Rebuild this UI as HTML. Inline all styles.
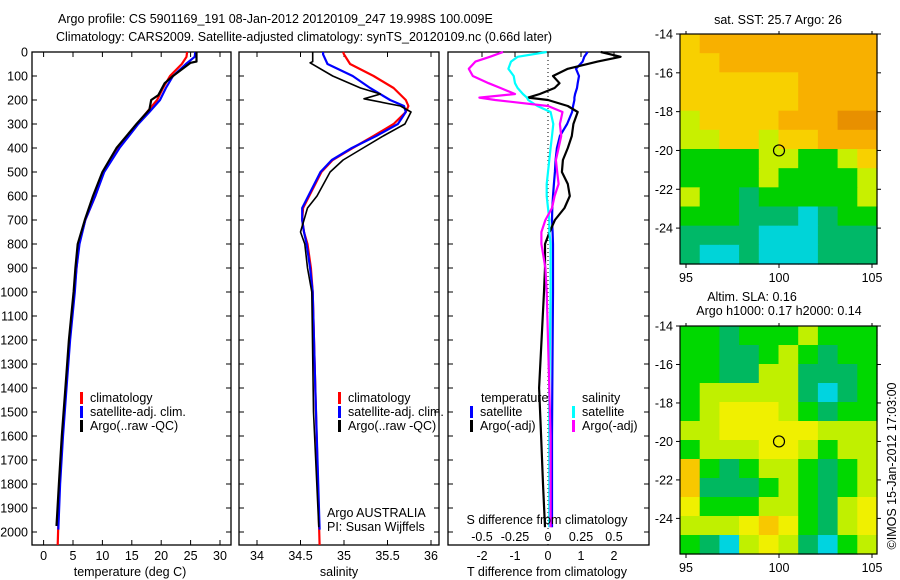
<!DOCTYPE html>
<html><head><meta charset="utf-8"><style>
html,body{margin:0;padding:0;background:#fff;width:900px;height:580px;overflow:hidden}
svg text{font-family:"Liberation Sans",sans-serif;font-size:12.5px;fill:#000}
</style></head><body>
<svg id="fig" width="900" height="580" viewBox="0 0 900 580" xmlns="http://www.w3.org/2000/svg">
<text x="58" y="23" font-size="13.5">Argo profile: CS 5901169_191 08-Jan-2012 20120109_247 19.998S 100.009E</text>
<text x="56" y="41" font-size="13.5">Climatology: CARS2009. Satellite-adjusted climatology: synTS_20120109.nc (0.66d later)</text>
<g id="g"></g>
</svg>
<script>
// ---- temperature panel data ----
const tDepth = [0,20,50,100,150,200,250,300,400,500,600,700,800,900,1000,1200,1400,1600,1800,2000];
const tClim  = [24.4,24.3,23.5,21.5,20.3,19.3,17.6,15.9,12.7,10.2,8.8,7.1,6.0,5.6,5.2,4.4,3.8,3.2,2.7,2.4];
const tSat   = [25.8,25.7,24.2,22.0,20.8,19.8,18.0,16.1,12.9,10.3,8.8,7.1,6.1,5.6,5.3,4.5,3.9,3.3,2.8,2.5];
const tArgoDepth = [0,40,45,100,130,180,200,240,300,400,500,600,700,800,900,1000,1200,1400,1600,1800,1975];
const tArgo  = [26.0,26.0,25.0,22.0,20.6,19.5,18.3,18.0,15.8,12.4,10.0,8.4,7.0,5.8,5.4,5.1,4.3,3.7,3.1,2.6,2.2];
// ---- salinity panel data ----
const sDepth = [0,10,50,100,150,200,225,250,300,350,400,450,500,600,650,700,750,800,900,1000,1400,2000];
const sClim  = [34.99,35.0,35.07,35.34,35.57,35.71,35.74,35.71,35.57,35.34,35.1,34.87,34.74,34.6,34.53,34.52,34.54,34.58,34.62,34.64,34.67,34.72];
const sSat   = [34.76,34.76,34.81,35.1,35.3,35.53,35.69,35.71,35.62,35.37,35.09,34.86,34.73,34.59,34.52,34.52,34.54,34.57,34.61,34.64,34.67,34.72];
const sArgoDepth = [0,40,45,100,150,175,195,225,250,300,350,400,450,500,600,650,700,750,800,900,1000,1500,1980];
const sArgo  = [34.64,34.64,34.61,34.87,35.19,35.42,35.23,35.65,35.77,35.7,35.45,35.22,34.99,34.84,34.69,34.58,34.54,34.5,34.55,34.58,34.63,34.65,34.71];
// ---- difference panel data ----
const dDepth = [0,20,40,70,100,130,150,175,190,200,225,250,300,350,400,450,500,550,600,650,700,750,800,900,1000,1400,1600,1800,1980];
const dTSat  = [1.2,1.1,1.05,0.85,0.94,0.9,0.88,0.82,0.8,0.8,0.76,0.73,0.58,0.36,0.27,0.23,0.21,0.18,0.15,0.13,0.12,0.14,0.15,0.15,0.15,0.13,0.12,0.12,0.12];
const dTArgo = [1.6,2.2,1.5,0.6,0.15,0.35,0.2,-0.25,-0.6,0.0,0.6,0.9,0.77,0.72,0.6,0.45,0.42,0.6,0.66,0.5,0.21,0.05,-0.09,-0.09,-0.12,-0.27,-0.21,-0.15,-0.09];
const dSSat  = [-0.01,-0.23,-0.28,-0.3,-0.26,-0.25,-0.23,-0.19,-0.16,-0.15,-0.08,0.02,0.04,0.03,0.02,0.01,0.0,-0.01,-0.01,0.0,0.01,0.01,0.02,0.02,0.02,0.01,0.01,0.01,0.01];
const dSArgo = [-0.34,-0.44,-0.55,-0.6,-0.57,-0.45,-0.36,-0.25,-0.52,-0.4,0.0,0.11,0.09,0.1,0.08,0.06,0.07,0.08,0.05,0.03,-0.02,-0.05,-0.05,-0.02,-0.01,0.01,0.02,0.02,0.02];
// ---- tick labels ----
const depthTicks = [0,100,200,300,400,500,600,700,800,900,1000,1100,1200,1300,1400,1500,1600,1700,1800,1900,2000];
const tempTicks = [0,5,10,15,20,25,30];
const salTicks = [34,34.5,35,35.5,36];
const dTTicks = [-2,-1,0,1,2];
const dSTicks = [-0.5,-0.25,0,0.25,0.5];
const latTicks = [-14,-16,-18,-20,-22,-24];
const lonTicks = [95,100,105];
// ---- map grids (colour class, rows -14 .. -26, cols 95 .. 105) ----
const sstGrid = [
[4,5,5,5,5,5,5,5,5,5],[4,4,5,5,5,5,5,5,5,5],[4,4,4,4,4,4,5,5,5,5],[4,4,4,4,4,4,5,5,5,5],
[3,4,4,4,4,5,5,5,6,6],[3,3,4,4,3,4,4,5,5,5],[2,2,2,2,3,3,2,2,3,4],[2,2,2,2,3,2,2,2,2,3],
[3,2,2,1,2,2,2,2,2,3],[2,2,2,1,1,1,0,1,2,2],[1,1,1,1,0,0,0,1,1,1],[1,0,0,1,0,0,0,1,1,1]];
const slaGrid = [
[2,2,1,2,2,2,3,2,2,2],[2,2,1,1,2,3,2,1,2,2],[2,2,1,1,3,3,1,1,1,2],[2,3,3,3,3,3,1,0,1,2],
[2,3,4,4,4,3,2,1,2,2],[3,3,4,4,4,4,4,3,3,3],[2,3,3,3,4,4,3,2,3,3],[5,2,1,2,3,3,2,1,2,3],
[5,1,1,1,2,3,2,1,2,3],[4,2,2,2,3,3,2,1,3,4],[3,3,3,4,5,4,2,1,3,4],[2,1,0,3,4,3,1,0,2,3]];
const sstColors = ['#00d4d8','#00b868','#00d000','#c8f000','#f8d000','#f8b000','#e89000'];
const slaColors = ['#00d4e0','#00b860','#00d800','#c0f000','#f0f000','#f8c800'];

const NS='http://www.w3.org/2000/svg', G=document.getElementById('g');
function mk(tag,attrs,parent){const e=document.createElementNS(NS,tag);for(const k in attrs)e.setAttribute(k,attrs[k]);(parent||G).appendChild(e);return e;}
function txt(x,y,s,anchor,parent,size){const e=mk('text',{x:x,y:y,'text-anchor':anchor||'start'},parent);if(size)e.setAttribute('font-size',size);e.textContent=s;return e;}

const Y = d => 52 + d*0.24;
const xT = v => 43.6 + v*(220-43.6)/30;
const xS = v => 257 + (v-34)*87;
const xD = v => 548 + v*33;
const xDS = v => 548 + v*132;

function frame(x0,x1,name){
  const r=mk('rect',{x:x0,y:52,width:x1-x0,height:493,fill:'none',stroke:'#000','stroke-width':1.3});
  
  
  depthTicks.forEach(d=>{mk('line',{x1:x0,x2:x0+5,y1:Y(d),y2:Y(d),stroke:'#000'});mk('line',{x1:x1,x2:x1-5,y1:Y(d),y2:Y(d),stroke:'#000'});});
}
function line(xs,ds,fx,color,name,w){
  const p=xs.map((v,i)=>(i?'L':'M')+fx(v).toFixed(1)+','+Y(ds[i]).toFixed(1)).join('');
  const e=mk('path',{d:p,fill:'none',stroke:color,'stroke-width':w||2.2,'stroke-linejoin':'round'});
  
  
}
// depth labels
depthTicks.forEach(d=>{const t=txt(28,Y(d)+4.5,String(d),'end');
  
  });

// panel 1
frame(32,231,'temperature-panel');
tempTicks.forEach(v=>{mk('line',{x1:xT(v),x2:xT(v),y1:52,y2:57,stroke:'#000'});mk('line',{x1:xT(v),x2:xT(v),y1:545,y2:540,stroke:'#000'});
  const t=txt(xT(v),560,String(v),'middle');});
line(tClim,tDepth.map((d,i)=>i==tDepth.length-1?2054:d),xT,'#f00','temperature-climatology-line');
line(tSat,tDepth.map((d,i)=>i==tDepth.length-1?1990:d),xT,'#00f','temperature-satellite-line');
line(tArgo,tArgoDepth,xT,'#000','temperature-argo-line');
let t1=txt(130,576,'temperature (deg C)','middle');

function legend(x,y,items,name){
  const g=mk('g',{});
  items.forEach((it,i)=>{mk('rect',{x:x,y:y+i*14-10,width:3,height:12,fill:it[0]},g);txt(x+10,y+i*14,it[1],'start',g);});
}
legend(80,402,[['#f00','climatology'],['#00f','satellite-adj. clim.'],['#000','Argo(..raw -QC)']],'temperature-legend');

// panel 2
frame(239,439,'salinity-panel');
salTicks.forEach(v=>{mk('line',{x1:xS(v),x2:xS(v),y1:52,y2:57,stroke:'#000'});mk('line',{x1:xS(v),x2:xS(v),y1:545,y2:540,stroke:'#000'});
  const t=txt(xS(v),560,String(v),'middle');});
line(sClim,sDepth.map((d,i)=>i==sDepth.length-1?2054:d),xS,'#f00','salinity-climatology-line');
line(sSat,sDepth.map((d,i)=>i==sDepth.length-1?1990:d),xS,'#00f','salinity-satellite-line');
line(sArgo,sArgoDepth,xS,'#000','salinity-argo-line',1.6);
let t2=txt(339,576,'salinity','middle');
legend(338,402,[['#f00','climatology'],['#00f','satellite-adj. clim.'],['#000','Argo(..raw -QC)']],'salinity-legend');
txt(327,517,'Argo AUSTRALIA');txt(327,531,'PI: Susan Wijffels');

// panel 3
frame(448,649,'difference-panel');
mk('line',{x1:548,x2:548,y1:52,y2:545,stroke:'#000','stroke-dasharray':'1,3'});
dTTicks.forEach(v=>{mk('line',{x1:xD(v),x2:xD(v),y1:52,y2:57,stroke:'#000'});
  const t=txt(xD(v),560,String(v),'middle');});
dSTicks.forEach(v=>{const t=txt(xDS(v),541,String(v),'middle');});
line(dTSat,dDepth,xD,'#00f','t-diff-satellite-line');
line(dTArgo,dDepth,xD,'#000','t-diff-argo-line');
line(dSSat,dDepth,xDS,'#0ff','s-diff-satellite-line');
line(dSArgo,dDepth,xDS,'#f0f','s-diff-argo-line');
txt(481,402,'temperature');txt(582,402,'salinity');
legend(470,416,[['#00f','satellite'],['#000','Argo(-adj)']],'t-diff-legend');
legend(572,416,[['#0ff','satellite'],['#f0f','Argo(-adj)']],'s-diff-legend');
txt(547,524,'S difference from climatology','middle');
let t3=txt(547,576,'T difference from climatology','middle');

// maps
function map(grid,colors,top,h,name,title){
  const x0=680,w=197,ch=h/grid.length,cw=w/grid[0].length;
  const g=mk('g',{});
  grid.forEach((row,r)=>row.forEach((v,c)=>{const cell=mk('rect',{x:(x0+c*cw).toFixed(2),y:(top+r*ch).toFixed(2),width:(cw+0.6).toFixed(2),height:(ch+0.6).toFixed(2),fill:colors[v]},g);
    }));
  mk('rect',{x:x0,y:top,width:w,height:h,fill:'none',stroke:'#000','stroke-width':1.2},g);
  const ly=l=>top+(-14-l)*(h/11.85), lx=l=>686+(l-95)*18.6;
  latTicks.forEach(l=>{mk('line',{x1:x0-4,x2:x0,y1:ly(l),y2:ly(l),stroke:'#000'},g);mk('line',{x1:x0+w,x2:x0+w+4,y1:ly(l),y2:ly(l),stroke:'#000'},g);txt(673,ly(l)+4.5,String(l),'end',g);});
  lonTicks.forEach(l=>{mk('line',{x1:lx(l),x2:lx(l),y1:top+h,y2:top+h+4,stroke:'#000'},g);mk('line',{x1:lx(l),x2:lx(l),y1:top,y2:top-3,stroke:'#000'},g);txt(lx(l),top+h+18,String(l),'middle',g);});
  mk('circle',{cx:lx(100),cy:ly(-20),r:5.5,fill:'none',stroke:'#000','stroke-width':1.2},g);
}
map(sstGrid,sstColors,34,230,'sst-map');
map(slaGrid,slaColors,326,228,'sla-map');
txt(778,24,'sat. SST: 25.7 Argo: 26','middle',null,'12');
txt(752,301,'Altim. SLA: 0.16','middle',null,'12');
txt(779,315,'Argo h1000: 0.17 h2000: 0.14','middle',null,'12');
const cr=txt(0,0,'©IMOS 15-Jan-2012 17:03:00','middle',null,'12');
cr.setAttribute('transform','translate(896,466) rotate(-90)');


</script>
</body></html>
